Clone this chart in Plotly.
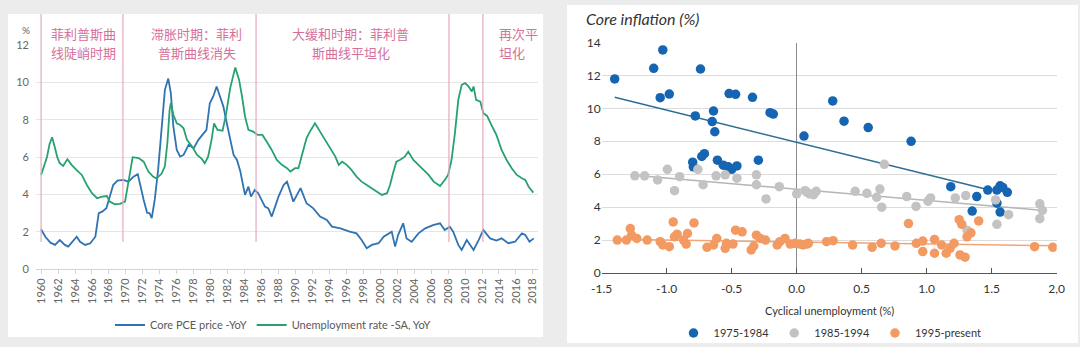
import plotly.graph_objects as go

W, H = 1080, 347

# ---------------- Left chart data ----------------
CORE_PCE_YEARS = [1960.0, 1960.5, 1961.1, 1961.65, 1962.2, 1962.8, 1963.2, 1963.8, 1964.2, 1964.6,
                  1965.2, 1965.8, 1966.4, 1966.8, 1967.2, 1967.7, 1968.1, 1968.5, 1969.0, 1969.7,
                  1970.3, 1970.9, 1971.4, 1971.7, 1972.1, 1972.5, 1972.8, 1973.05, 1973.4, 1973.8,
                  1974.2, 1974.6, 1975.0, 1975.3, 1975.6, 1976.0, 1976.4, 1976.8, 1977.4, 1978.0,
                  1978.55, 1979.0, 1979.5, 1979.9, 1980.3, 1980.7, 1981.1, 1981.5, 1981.9, 1982.3,
                  1982.7, 1983.1, 1983.5, 1983.85, 1984.05, 1984.45, 1984.75, 1985.2, 1985.6, 1986.0,
                  1986.4, 1986.8, 1987.2, 1987.6, 1988.0, 1988.6, 1989.0, 1989.75, 1990.6, 1991.3,
                  1992.1, 1992.9, 1993.7, 1994.3, 1995.3, 1996.4, 1997.2, 1997.8, 1998.4, 1999.0,
                  1999.8, 2000.4, 2001.35, 2001.75, 2002.1, 2002.7, 2003.1, 2003.7, 2004.5, 2005.3,
                  2006.3, 2007.05, 2007.6, 2008.2, 2008.6, 2009.2, 2009.6, 2010.2, 2011.0, 2011.6,
                  2012.15, 2012.95, 2013.7, 2014.3, 2015.1, 2015.9, 2016.7, 2017.1, 2017.6, 2018.1]
CORE_PCE_VALUES = [2.13, 1.73, 1.41, 1.29, 1.55, 1.29, 1.2, 1.55, 1.73, 1.46,
                   1.29, 1.38, 1.73, 2.99, 3.07, 3.25, 3.88, 4.5, 4.73, 4.77,
                   4.68, 4.95, 5.08, 4.41, 3.7, 3.02, 2.99, 2.72, 3.7, 5.31,
                   7.63, 9.6, 10.2, 9.42, 7.63, 6.38, 6.02, 6.11, 6.65, 6.47,
                   6.92, 7.18, 7.45, 8.88, 9.24, 9.78, 9.24, 8.7, 7.81, 6.92,
                   6.11, 5.84, 5.22, 4.41, 3.97, 4.41, 3.88, 4.24, 4.06, 3.7,
                   3.34, 3.25, 2.81, 3.34, 3.88, 4.5, 4.68, 3.61, 4.33, 3.52,
                   3.25, 2.81, 2.63, 2.27, 2.18, 2.0, 1.91, 1.55, 1.11, 1.29,
                   1.38, 1.73, 2.0, 1.2, 1.82, 2.45, 1.64, 1.46, 1.91, 2.18,
                   2.36, 2.45, 2.09, 2.27, 2.0, 1.29, 1.02, 1.55, 1.02, 1.55,
                   2.09, 1.64, 1.52, 1.64, 1.38, 1.46, 1.91, 1.82, 1.46, 1.64]

UNEMP_YEARS = [1960.0, 1960.3, 1960.7, 1961.0, 1961.3, 1961.65, 1961.9, 1962.2, 1962.6, 1963.1,
               1963.6, 1964.2, 1964.8, 1965.4, 1966.0, 1966.6, 1967.2, 1967.75, 1968.1, 1968.7,
               1969.3, 1969.9, 1970.3, 1970.8, 1971.5, 1972.1, 1972.65, 1973.2, 1973.6, 1974.2,
               1974.6, 1974.9, 1975.15, 1975.3, 1975.6, 1976.0, 1976.4, 1976.8, 1977.2, 1977.8,
               1978.4, 1978.95, 1979.3, 1979.7, 1980.1, 1980.4, 1980.8, 1981.4, 1981.8, 1982.3,
               1982.9, 1983.35, 1983.7, 1984.05, 1984.45, 1985.0, 1985.55, 1986.1, 1986.6, 1987.2,
               1987.8, 1988.4, 1989.0, 1989.4, 1989.95, 1990.35, 1990.7, 1991.1, 1991.3, 1991.7,
               1992.3, 1992.9, 1993.5, 1994.1, 1994.7, 1995.1, 1995.5, 1996.05, 1996.6, 1997.2,
               1997.8, 1998.4, 1999.0, 1999.6, 2000.2, 2000.8, 2001.15, 2001.5, 2001.9, 2002.3,
               2002.9, 2003.3, 2003.9, 2004.5, 2005.1, 2005.7, 2006.3, 2006.85, 2007.05, 2007.6,
               2008.0, 2008.4, 2008.8, 2009.2, 2009.6, 2010.0, 2010.4, 2010.8, 2011.0, 2011.3,
               2011.8, 2012.15, 2012.6, 2013.1, 2013.7, 2014.3, 2014.9, 2015.5, 2016.1, 2016.7,
               2017.1, 2017.5, 2017.9, 2018.05]
UNEMP_VALUES = [5.04, 5.5, 6.0, 6.7, 7.06, 6.47, 6.0, 5.67, 5.52, 5.88,
                5.58, 5.3, 5.04, 4.5, 4.06, 3.79, 3.88, 3.91, 3.61, 3.47,
                3.49, 3.61, 4.77, 5.99, 5.94, 5.75, 5.22, 4.95, 4.85, 5.1,
                5.5, 6.8, 8.5, 8.9, 8.26, 7.8, 7.72, 7.54, 6.92, 6.56,
                6.11, 5.9, 5.67, 6.02, 6.92, 7.8, 7.45, 7.41, 8.26, 9.69,
                10.8, 10.13, 9.24, 8.17, 7.45, 7.36, 7.18, 7.18, 6.83, 6.38,
                5.84, 5.58, 5.4, 5.22, 5.4, 5.4, 6.0, 6.7, 7.0, 7.36,
                7.81, 7.36, 6.92, 6.47, 6.02, 5.58, 5.75, 5.58, 5.31, 4.95,
                4.68, 4.5, 4.33, 4.15, 3.97, 4.06, 4.5, 5.13, 5.75, 5.84,
                6.02, 6.29, 5.84, 5.58, 5.31, 5.04, 4.68, 4.5, 4.45, 4.77,
                5.04, 5.84, 7.27, 9.06, 9.87, 9.96, 9.78, 9.51, 9.78, 9.06,
                8.97, 8.35, 8.2, 7.72, 7.18, 6.38, 5.84, 5.4, 5.04, 4.86,
                4.77, 4.41, 4.15, 4.09]

X_TICK_YEARS = list(range(1960, 2019, 2))
LEFT_Y_TICKS = [0, 2, 4, 6, 8, 10, 12]
PERIOD_DIVIDERS = [1960.0, 1969.65, 1985.35, 2008.1, 2012.1]
PERIOD_LABELS = [
    ("菲利普斯曲", "线陡峭时期"),
    ("滞胀时期：菲利", "普斯曲线消失"),
    ("大缓和时期：菲利普", "斯曲线平坦化"),
    ("再次平", "坦化"),
]

# ---------------- Right chart data ----------------
BLUE_X = [-1.40, -1.10, -1.03, -1.05, -0.98, -0.74, -0.78, -0.64, -0.65, -0.63,
          -0.52, -0.47, -0.34, -0.205, -0.18, 0.056, -0.80, -0.795, -0.73, -0.71,
          -0.61, -0.565, -0.526, -0.50, -0.46, -0.295, 0.277, 0.364, 0.55, 0.88,
          1.185, 1.385, 1.35, 1.47, 1.565, 1.585, 1.54, 1.62, 1.54, 1.565]
BLUE_Y = [11.79, 12.43, 13.55, 10.65, 10.87, 12.39, 9.54, 9.84, 9.2, 8.58,
          10.9, 10.85, 10.67, 9.74, 9.65, 8.32, 6.73, 6.45, 7.08, 7.25,
          6.85, 6.55, 6.45, 6.3, 6.5, 6.85, 10.45, 9.22, 8.83, 8.0,
          5.24, 4.64, 3.76, 5.04, 5.3, 5.2, 5.04, 4.9, 4.24, 3.7]

GRAY_X = [-1.245, -1.17, -1.07, -0.995, -0.94, -0.9, -0.76, -0.72, -0.62, -0.55,
          -0.46, -0.31, -0.31, -0.236, -0.134, 0.0, 0.064, 0.1, 0.15, 0.08,
          0.13, 0.45, 0.54, 0.64, 0.615, 0.654, 0.674, 0.846, 0.918, 1.01,
          1.03, 1.22, 1.3, 1.31, 1.53, 1.54, 1.63, 1.87, 1.89, 1.87]
GRAY_Y = [5.9, 5.9, 5.65, 6.3, 5.0, 5.85, 6.3, 5.36, 5.9, 5.96,
          5.76, 5.96, 5.36, 4.5, 5.24, 4.8, 5.0, 4.8, 4.96, 4.9,
          4.76, 4.96, 4.84, 5.1, 4.6, 4.0, 6.6, 4.64, 4.04, 4.36,
          4.56, 4.56, 4.7, 2.6, 4.44, 2.96, 3.54, 4.2, 3.8, 3.3]

ORANGE_X = [-1.38, -1.31, -1.28, -1.27, -1.23, -1.15, -1.05, -1.03, -0.98, -0.95,
            -0.94, -0.92, -0.87, -0.85, -0.84, -0.79, -0.69, -0.64, -0.615, -0.55,
            -0.54, -0.49, -0.47, -0.42, -0.35, -0.33, -0.31, -0.28, -0.24, -0.15,
            -0.13, -0.09, -0.05, -0.013, 0.025, 0.077, 0.05, 0.09, 0.23, 0.28,
            0.43, 0.58, 0.65, 0.756, 0.86, 0.92, 0.97, 0.97, 1.06, 1.06,
            1.115, 1.15, 1.18, 1.21, 1.25, 1.27, 1.256, 1.295, 1.31, 1.34,
            1.40, 1.83, 1.97]
ORANGE_Y = [2.0, 2.0, 2.7, 2.3, 2.1, 2.0, 1.9, 1.7, 1.6, 3.1,
            2.2, 2.36, 2.0, 1.76, 2.4, 3.04, 1.56, 1.7, 2.1, 1.5,
            1.8, 1.76, 2.6, 2.5, 1.4, 1.64, 2.3, 2.1, 2.0, 1.7,
            1.9, 2.1, 1.76, 1.8, 1.76, 1.76, 1.7, 1.8, 1.9, 1.96,
            1.7, 1.56, 1.8, 1.64, 3.0, 1.8, 1.94, 1.3, 2.04, 1.2,
            1.7, 1.2, 1.5, 1.8, 3.24, 2.96, 1.1, 0.96, 2.2, 2.44,
            3.16, 1.6, 1.56]

BLUE_FIT_X, BLUE_FIT_Y = [-1.40, 1.46], [10.67, 5.09]
GRAY_FIT_X, GRAY_FIT_Y = [-1.27, 1.90], [5.95, 3.80]
ORANGE_FIT_X, ORANGE_FIT_Y = [-1.40, 2.00], [2.05, 1.65]

RIGHT_X_TICKS = [-1.5, -1.0, -0.5, 0.0, 0.5, 1.0, 1.5, 2.0]
RIGHT_X_TICKTEXT = ["-1.5", "-1.0", "-0.5", "0.0", "0.5", "1.0", "1.5", "2,0"]
RIGHT_Y_TICKS = [0, 2, 4, 6, 8, 10, 12, 14]


def px(x):
    return x / W


def py(y):
    return 1 - y / H


FONT = "Lato, 'Noto Sans', sans-serif"
CJK = "'Noto Sans CJK SC', sans-serif"
BLUE_LINE = "#2f73b2"
GREEN_LINE = "#27a26f"
PINK = "#e3aabb"
PINK_TEXT = "#d5709a"

fig = go.Figure()

# Left chart traces
fig.add_trace(go.Scatter(x=CORE_PCE_YEARS, y=CORE_PCE_VALUES, mode="lines",
                         name="Core PCE price -YoY", line=dict(color=BLUE_LINE, width=1.8),
                         xaxis="x", yaxis="y", legend="legend"))
fig.add_trace(go.Scatter(x=UNEMP_YEARS, y=UNEMP_VALUES, mode="lines",
                         name="Unemployment rate -SA, YoY", line=dict(color=GREEN_LINE, width=1.8),
                         xaxis="x", yaxis="y", legend="legend"))

# Right chart fit lines
for fx, fy, col in [(BLUE_FIT_X, BLUE_FIT_Y, "#2c6e93"),
                    (GRAY_FIT_X, GRAY_FIT_Y, "#b5b5b5"),
                    (ORANGE_FIT_X, ORANGE_FIT_Y, "#f2a577")]:
    fig.add_trace(go.Scatter(x=fx, y=fy, mode="lines", line=dict(color=col, width=1.5),
                             showlegend=False, xaxis="x2", yaxis="y2", hoverinfo="skip"))

# Right chart scatter
for sx, sy, col, nm in [(BLUE_X, BLUE_Y, "#1565b3", "1975-1984"),
                        (GRAY_X, GRAY_Y, "#c3c3c3", "1985-1994"),
                        (ORANGE_X, ORANGE_Y, "#f39a62", "1995-present")]:
    fig.add_trace(go.Scatter(x=sx, y=sy, mode="markers", name=nm,
                             marker=dict(color=col, size=9.5, line=dict(width=0)),
                             xaxis="x2", yaxis="y2", legend="legend2"))

shapes = [
    dict(type="rect", xref="paper", yref="paper", x0=px(8), x1=px(543), y0=py(337), y1=py(14),
         fillcolor="white", line=dict(width=0), layer="below"),
    dict(type="rect", xref="paper", yref="paper", x0=px(567), x1=px(1078), y0=py(343), y1=py(5),
         fillcolor="white", line=dict(width=0), layer="below"),
]
for d in PERIOD_DIVIDERS:
    shapes.append(dict(type="line", xref="x", yref="paper", x0=d, x1=d, y0=py(242), y1=py(14),
                       line=dict(color=PINK, width=1.2), layer="above"))

annotations = []
label_pos = [(50, "left"), (196.5, "center"), (350.5, "center"), (498, "left")]
for (l1, l2), (xx, al) in zip(PERIOD_LABELS, label_pos):
    for txt, yy in [(l1, 33.3), (l2, 52.8)]:
        annotations.append(dict(text=txt, x=px(xx), y=py(yy), xref="paper", yref="paper",
                                xanchor=al, yanchor="middle", showarrow=False, borderpad=0,
                                font=dict(family=CJK, size=13, color=PINK_TEXT)))
annotations.append(dict(text="%", x=px(26), y=py(30), xref="paper", yref="paper",
                        xanchor="center", yanchor="middle", showarrow=False,
                        font=dict(family=FONT, size=10, color="#666666")))
annotations.append(dict(text="<i>Core inflation (%)</i>", x=px(584), y=py(19), xref="paper", yref="paper",
                        xanchor="left", yanchor="middle", showarrow=False,
                        font=dict(family=FONT, size=16, color="#333333")))
annotations.append(dict(text="Cyclical unemployment (%)", x=px(829), y=py(310), xref="paper", yref="paper",
                        xanchor="center", yanchor="middle", showarrow=False,
                        font=dict(family=FONT, size=11, color="#333333")))

fig.update_layout(
    width=W, height=H, autosize=False,
    margin=dict(l=0, r=0, t=0, b=0, autoexpand=False),
    paper_bgcolor="#ececec", plot_bgcolor="white",
    font=dict(family=FONT),
    shapes=shapes, annotations=annotations,
    xaxis=dict(domain=[px(36), px(538)], range=[1959.4, 2018.6], anchor="y", automargin=False,
               tickmode="array", tickvals=X_TICK_YEARS, ticktext=[str(v) for v in X_TICK_YEARS],
               tickangle=-90, tickfont=dict(size=11, color="#666666"),
               showgrid=False, zeroline=False, showline=True, linecolor="#d4d4d4",
               ticks="outside", ticklen=4, tickcolor="#d4d4d4"),
    yaxis=dict(domain=[py(269), py(45)], range=[0, 12], anchor="x", automargin=False,
               tickmode="array", tickvals=LEFT_Y_TICKS, tickfont=dict(size=11, color="#666666"),
               showgrid=True, gridcolor="#e6e6e6", zeroline=False, showline=False,
               ticks="", ticklabelstandoff=6),
    xaxis2=dict(domain=[px(601.7), px(1056.7)], range=[-1.5, 2.0], anchor="y2", automargin=False,
                tickmode="array", tickvals=RIGHT_X_TICKS, ticktext=RIGHT_X_TICKTEXT,
                tickfont=dict(size=12, color="#333333"), ticklabelstandoff=5,
                showgrid=False, zeroline=True, zerolinecolor="#8a8a8a", zerolinewidth=1,
                showline=True, linecolor="#555555", ticks="inside", ticklen=5, tickcolor="#555555"),
    yaxis2=dict(domain=[py(273), py(42.5)], range=[0, 14], anchor="x2", automargin=False,
                tickmode="array", tickvals=RIGHT_Y_TICKS, tickfont=dict(size=12, color="#333333"),
                showgrid=True, gridcolor="#dcdcdc", zeroline=False, showline=False, ticks=""),
    legend=dict(orientation="h", x=px(110), y=py(325), xanchor="left", yanchor="middle",
                bgcolor="rgba(0,0,0,0)", font=dict(size=11, color="#595959", family=FONT),
                traceorder="normal", itemwidth=30),
    legend2=dict(orientation="h", x=px(830), y=py(333), xanchor="center", yanchor="middle",
                 bgcolor="rgba(0,0,0,0)", font=dict(size=11, color="#333333", family=FONT),
                 traceorder="normal", itemwidth=30),
)

fig.write_html("out.html")
